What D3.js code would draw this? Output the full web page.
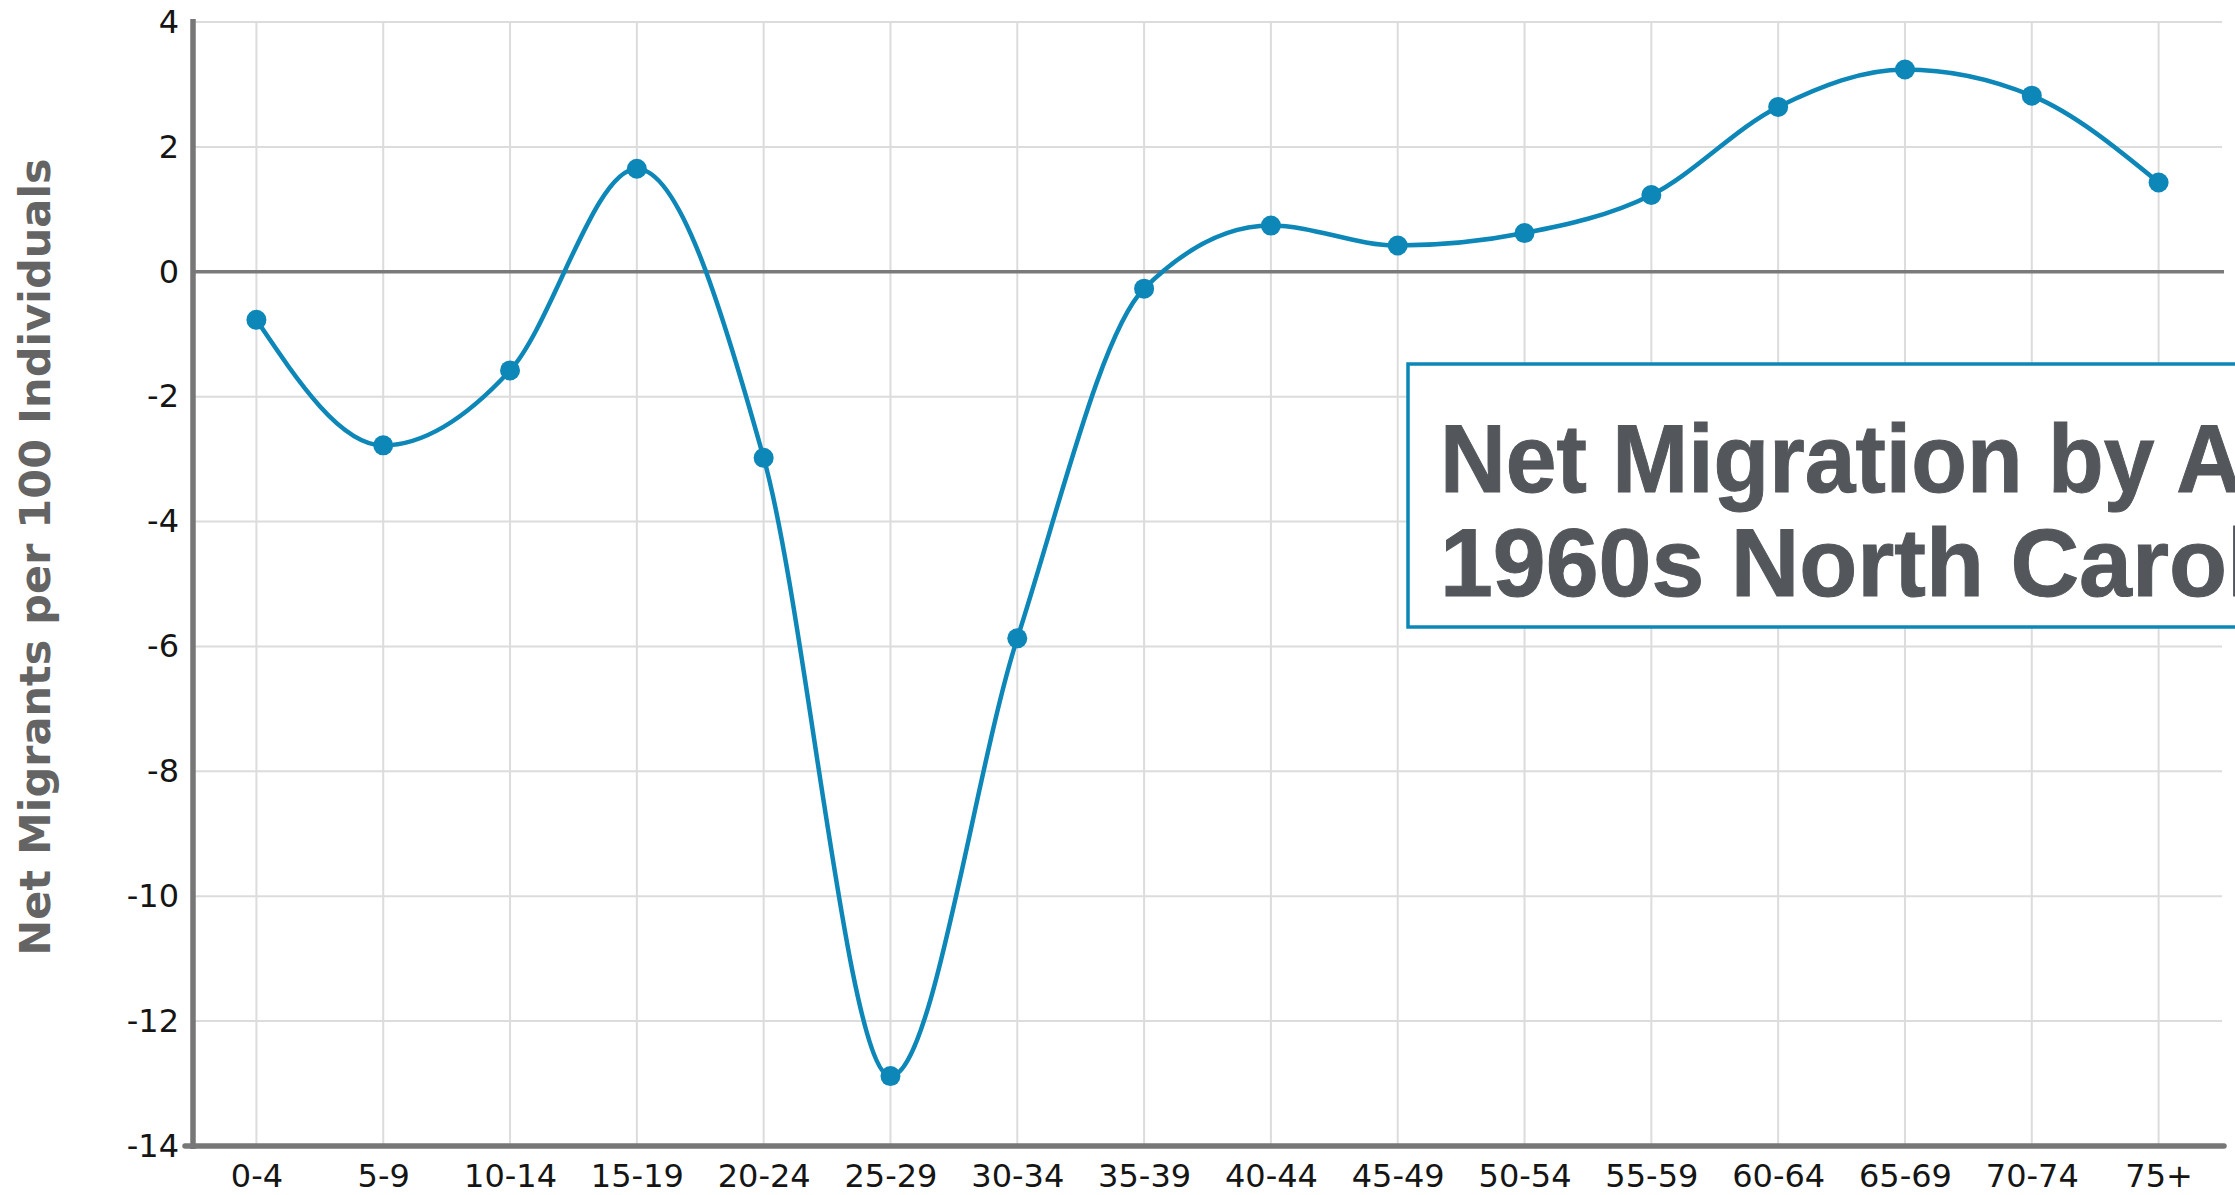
<!DOCTYPE html>
<html>
<head>
<meta charset="utf-8">
<script src="https://cdn.jsdelivr.net/npm/d3@7/dist/d3.min.js"></script>
<style>
  html, body { margin: 0; padding: 0; background: #fff; overflow: hidden; }
  svg { display: block; }
</style>
</head>
<body>
<svg id="chart" width="2235" height="1195"></svg>
<script>
// ---- data ----
const categories = ["0-4","5-9","10-14","15-19","20-24","25-29","30-34","35-39",
                    "40-44","45-49","50-54","55-59","60-64","65-69","70-74","75+"];
const netMigrants = [-0.77,-2.78,-1.58,1.65,-2.98,-12.88,-5.87,-0.27,
                     0.74,0.42,0.62,1.23,2.64,3.24,2.82,1.43];
const yTicks = [4,2,0,-2,-4,-6,-8,-10,-12,-14];
const yAxisTitle = "Net Migrants per 100 Individuals";
const titleLines = ["Net Migration by Age,", "1960s North Carolina"];

// ---- layout ----
const svg = d3.select("#chart");
const plotL = 193, plotR = 2222, plotT = 22, plotB = 1146;

const x = d3.scalePoint().domain(categories).range([plotL, plotR]).padding(0.5);
const y = d3.scaleLinear().domain([-14, 4]).range([plotB, plotT]);

// gridlines
const grid = svg.append("g");
grid.selectAll("line.h").data(yTicks.filter(d => d !== 0 && d !== -14)).join("line")
  .attr("class", "h")
  .attr("x1", plotL).attr("x2", plotR)
  .attr("y1", d => y(d)).attr("y2", d => y(d))
  .attr("stroke", "#dcdcdc").attr("stroke-width", 2);
grid.selectAll("line.v").data(categories).join("line")
  .attr("class", "v")
  .attr("x1", d => x(d)).attr("x2", d => x(d))
  .attr("y1", plotT).attr("y2", plotB)
  .attr("stroke", "#dcdcdc").attr("stroke-width", 2);

// zero line
svg.append("line")
  .attr("x1", plotL).attr("x2", plotR + 2)
  .attr("y1", y(0)).attr("y2", y(0))
  .attr("stroke", "#7a7a7a").attr("stroke-width", 3.5);

// y axis
const yAxis = d3.axisLeft(y).tickValues(yTicks).tickSize(0).tickPadding(14)
  .tickFormat(d => String(d));
const gy = svg.append("g").attr("transform", `translate(${plotL},0)`).call(yAxis);
gy.select(".domain").remove();
gy.selectAll("text")
  .attr("font-family", "DejaVu Sans, Verdana, sans-serif")
  .attr("font-size", 32).attr("fill", "#151515");
svg.append("line")
  .attr("x1", plotL).attr("x2", plotL)
  .attr("y1", plotT - 3).attr("y2", plotB + 3)
  .attr("stroke", "#777").attr("stroke-width", 5.5);

// x axis
const xAxis = d3.axisBottom(x).tickSize(0).tickPadding(18);
const gx = svg.append("g").attr("transform", `translate(0,${plotB})`).call(xAxis);
gx.select(".domain").remove();
gx.selectAll("text")
  .attr("font-family", "DejaVu Sans, Verdana, sans-serif")
  .attr("font-size", 32).attr("fill", "#151515");
svg.append("line")
  .attr("x1", plotL - 8).attr("x2", plotR + 2)
  .attr("y1", plotB).attr("y2", plotB)
  .attr("stroke", "#777").attr("stroke-width", 5.5)
  .attr("stroke-linecap", "round");

// y axis title
svg.append("text")
  .attr("transform", `translate(50,557) rotate(-90)`)
  .attr("text-anchor", "middle")
  .attr("font-family", "DejaVu Sans, Verdana, sans-serif")
  .attr("font-weight", "bold")
  .attr("font-size", 43)
  .attr("fill", "#646464")
  .text(yAxisTitle);

// line
const data = categories.map((c, i) => ({c, v: netMigrants[i]}));
const line = d3.line().x(d => x(d.c)).y(d => y(d.v)).curve(d3.curveMonotoneX);
svg.append("path").datum(data)
  .attr("d", line)
  .attr("fill", "none")
  .attr("stroke", "#0d87b8")
  .attr("stroke-width", 4.5);
svg.append("g").selectAll("circle").data(data).join("circle")
  .attr("cx", d => x(d.c)).attr("cy", d => y(d.v)).attr("r", 10)
  .attr("fill", "#0d87b8");

// title box
const box = svg.append("g");
box.append("rect")
  .attr("x", 1408).attr("y", 364).attr("width", 1200).attr("height", 263)
  .attr("fill", "#fff").attr("stroke", "#0d87b8").attr("stroke-width", 3.5);
const lineScales = [0.95, 0.99];
titleLines.forEach((t, i) => {
  box.append("text")
    .attr("transform", `translate(1440,${492 + i * 104}) scale(${lineScales[i]},1)`)
    .attr("font-family", "Liberation Sans, Arial, sans-serif")
    .attr("font-weight", "bold")
    .attr("font-size", 96)
    .attr("fill", "#53575c")
    .attr("stroke", "#53575c")
    .attr("stroke-width", 1)
    .text(t);
});
</script>
</body>
</html>
